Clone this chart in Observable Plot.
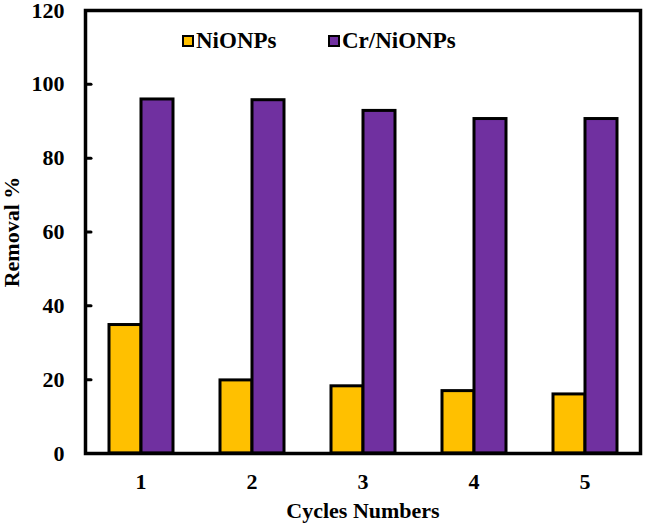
<!DOCTYPE html>
<html>
<head>
<meta charset="utf-8">
<script src="https://cdn.jsdelivr.net/npm/d3@7"></script>
<script src="https://cdn.jsdelivr.net/npm/@observablehq/plot@0.6"></script>
<style>
  html, body { margin: 0; padding: 0; background: #fff; }
  #wrap { position: relative; width: 645px; height: 526px; font-family: "Liberation Serif", "Times New Roman", serif; font-weight: bold; }
  .leg { position: absolute; top: 29px; font-size: 23px; line-height: 23px; display: flex; align-items: center; color: #000; }
  .sw { width: 12px; height: 12px; box-sizing: border-box; border: 2px solid #000; margin-right: 2px; }
</style>
</head>
<body>
<div id="wrap"></div>
<script>
const cycles = ["1", "2", "3", "4", "5"];
const series = ["NiONPs", "Cr/NiONPs"];
const seriesColors = ["#FFC000", "#7030A0"];
const niValues = [34.8, 19.8, 18.2, 16.9, 16.0];
const crValues = [95.9, 95.7, 92.8, 90.6, 90.6];
const yTicks = [0, 20, 40, 60, 80, 100, 120];

const table = [];
cycles.forEach((c, i) => {
  table.push({cycle: c, series: series[0], value: niValues[i]});
  table.push({cycle: c, series: series[1], value: crValues[i]});
});

const tickLine = {draw(context, l) { context.moveTo(0, 0); context.lineTo(0, -l); }};

const chart = Plot.plot({
  width: 645,
  height: 526,
  marginLeft: 84,
  marginRight: 5,
  marginTop: 10,
  marginBottom: 73,
  style: {fontFamily: "Liberation Serif, Times New Roman, serif", fontWeight: "bold", fontSize: "22px", color: "#000", background: "#fff", overflow: "visible"},
  fx: {domain: cycles, padding: 0, axis: null},
  x: {domain: series, paddingInner: 0, paddingOuter: 0.7, axis: null},
  y: {domain: [0, 120], axis: null},
  color: {domain: series, range: seriesColors},
  marks: [
    Plot.barY(table, {fx: "cycle", x: "series", y: "value", fill: "series", stroke: "black", strokeWidth: 3, inset: 0}),
    Plot.frame({facet: "super", stroke: "black", strokeWidth: 3.5}),
    Plot.vector(yTicks, {fx: yTicks.map(() => cycles[0]), y: d => d, frameAnchor: "left", length: 5.5, rotate: 90, anchor: "start", shape: tickLine, stroke: "black", strokeWidth: 3}),
    Plot.axisY({ticks: yTicks, tickSize: 0, tickPadding: 21, label: "Removal %", labelArrow: "none", labelAnchor: "center", labelOffset: 82, fontSize: 22}),
    Plot.axisFx({anchor: "bottom", tickSize: 0, tickPadding: 20, label: "Cycles Numbers", labelArrow: "none", labelAnchor: "center", labelOffset: 64, fontSize: 22})
  ]
});

const wrap = document.getElementById("wrap");
wrap.appendChild(chart);

const legendPos = [182, 328];
series.forEach((s, i) => {
  const item = document.createElement("div");
  item.className = "leg";
  item.style.left = legendPos[i] + "px";
  const sw = document.createElement("span");
  sw.className = "sw";
  sw.style.background = seriesColors[i];
  const tx = document.createElement("span");
  tx.textContent = s;
  item.appendChild(sw);
  item.appendChild(tx);
  wrap.appendChild(item);
});
</script>
</body>
</html>
